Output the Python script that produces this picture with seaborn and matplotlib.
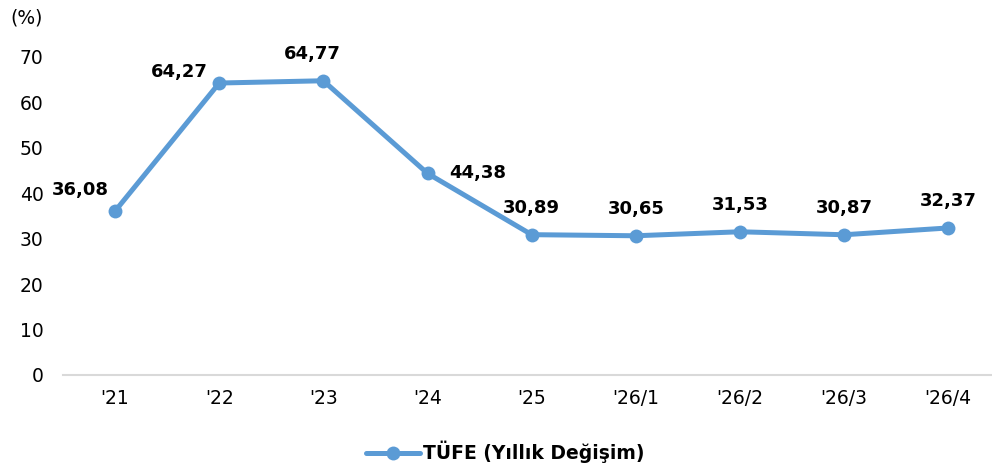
import matplotlib
matplotlib.use("Agg")
import matplotlib.pyplot as plt
import seaborn as sns
import pandas as pd

categories = ["'21", "'22", "'23", "'24", "'25", "'26/1", "'26/2", "'26/3", "'26/4"]
values = [36.08, 64.27, 64.77, 44.38, 30.89, 30.65, 31.53, 30.87, 32.37]
labels = ["36,08", "64,27", "64,77", "44,38", "30,89", "30,65", "31,53", "30,87", "32,37"]
series_name = "TÜFE (Yıllık Değişim)"
yticks = [0, 10, 20, 30, 40, 50, 60, 70]

sns.set_theme(style="white")
plt.rcParams['font.family'] = ['DejaVu Sans']
plt.rcParams['text.color'] = 'black'

df = pd.DataFrame({"x": range(len(categories)), "y": values})
color = "#5B9BD5"

fig = plt.figure(figsize=(9.92, 4.67), dpi=100)
ax = fig.add_axes([63/992, 1-375/467, 1-63/992, (375-57)/467])

sns.lineplot(data=df, x="x", y="y", ax=ax, color=color, linewidth=3.6,
             marker="o", markersize=10, markeredgewidth=0, label=series_name,
             legend=False)

offsets = [(-25, 15), (-29, 8), (-8, 19), (36, 0), (0, 19.5), (0, 19.5), (0, 19.5), (0, 19.5), (0, 19.5)]
for i, (v, lab) in enumerate(zip(values, labels)):
    dx, dy = offsets[i]
    ax.annotate(lab, (i, v), xytext=(dx, dy), textcoords="offset points",
                ha="center", va="center", fontsize=13, fontweight="bold",
                color="black", annotation_clip=False)

ax.set_xlim(-0.5, 8.42)
ax.set_ylim(0, 70)
ax.set_yticks(yticks)
ax.set_yticklabels([str(t) for t in yticks])
ax.set_xticks(range(len(categories)))
ax.set_xticklabels(categories)
ax.tick_params(axis="y", length=0, pad=14, labelsize=13.5, colors="black")
ax.tick_params(axis="x", length=0, pad=10, labelsize=13.5, colors="black")
ax.set_xlabel("")
ax.set_ylabel("")
for s in ["top", "right", "left"]:
    ax.spines[s].set_visible(False)
ax.spines["bottom"].set_color("#d9d9d9")
ax.spines["bottom"].set_linewidth(1.5)
ax.grid(False)

fig.text(10/992, 1-18/467, "(%)", fontsize=13.5, ha="left", va="center", color="black")

handles, lbls = ax.get_legend_handles_labels()
leg = fig.legend(handles, lbls, loc="center", bbox_to_anchor=(505/992, 1-452/467),
                 frameon=False, handlelength=2.9, handletextpad=0.15,
                 prop={"size": 13.5, "weight": "bold"}, labelcolor="black")

fig.savefig("out.png", dpi=100)
